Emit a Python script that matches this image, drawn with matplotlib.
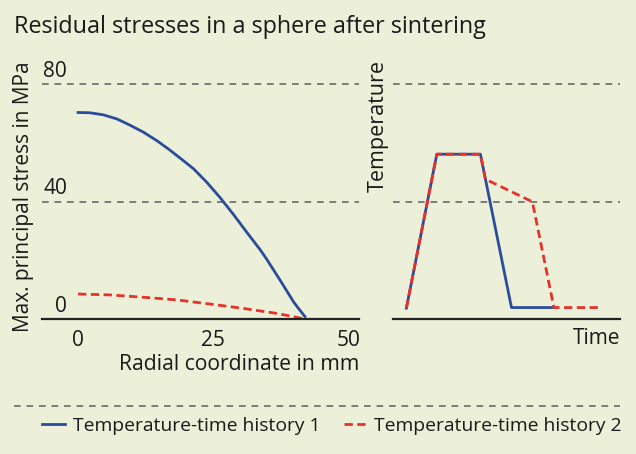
from matplotlib import pyplot as plt
from matplotlib.lines import Line2D

# Left panel: residual stress along the radius
radius_blue = [0, 2.2, 4.7, 7.2, 9.6, 12.1, 14.6, 17.0, 19.5, 21.4, 23.8, 26.3,
               28.8, 31.2, 33.7, 34.9, 37.4, 39.9, 40.8, 42.0]
stress_blue = [70.3, 70.2, 69.5, 68.1, 66.0, 63.6, 60.7, 57.5, 53.9, 51.1, 46.6, 41.3,
               35.5, 29.6, 23.6, 20.4, 13.2, 5.8, 3.6, 0.8]
radius_red = [0, 5.9, 12.1, 18.3, 24.4, 30.6, 36.8, 42.0]
stress_red = [8.5, 8.2, 7.4, 6.5, 5.1, 3.6, 1.9, 0.0]
stress_ticks = [0, 40, 80]
radius_ticks = [0, 25, 50]

# Right panel: temperature-time histories (arbitrary units)
time_blue = [5.9, 19.3, 38.5, 52.2, 70.9]
temp_blue = [3.7, 56.1, 56.1, 3.9, 3.9]
time_red = [5.9, 19.3, 38.5, 40.7, 61.4, 70.9, 90.8]
temp_red = [3.7, 56.1, 56.1, 47.6, 39.9, 3.9, 3.9]

labels = ['Temperature-time history 1', 'Temperature-time history 2']

BG = '#ecf0d8'
BLUE = '#2b4c9b'
RED = '#e5332a'
GRID = '#6a6a6a'
TXT = '#1a1a1a'
W, H = 636, 454
DASH = (0, (3, 1.6))

plt.rcParams['font.family'] = ['Open Sans', 'DejaVu Sans']

fig = plt.figure(figsize=(W / 100, H / 100), dpi=100, facecolor=BG)


def px(x, y):
    # pixel position (top-left origin) -> figure fraction
    return x / W, 1 - y / H


ax1 = fig.add_axes([42 / W, 1 - 319 / H, (359 - 42) / W, (319 - 84) / H])
ax2 = fig.add_axes([393 / W, 1 - 319 / H, (620 - 393) / W, (319 - 84) / H])

for ax in (ax1, ax2):
    ax.set_facecolor(BG)
    ax.set_ylim(0, 80)
    for side in ('left', 'right', 'top'):
        ax.spines[side].set_visible(False)
    ax.spines['bottom'].set_color('#222222')
    ax.spines['bottom'].set_linewidth(1.6)
    ax.set_yticks([])
    for v in stress_ticks[1:]:
        ax.axhline(v, color=GRID, lw=1.2, ls=(0, (4, 3.5)), clip_on=False)

# left panel
ax1.set_xlim(-6.67, 52)
ax1.plot(radius_blue, stress_blue, color=BLUE, lw=2)
ax1.plot(radius_red, stress_red, color=RED, lw=2, ls=DASH)
ax1.set_xticks(radius_ticks)
ax1.set_xticklabels([str(t) for t in radius_ticks])
ax1.tick_params(axis='x', length=0, pad=8, labelsize=15, labelcolor=TXT)
for v in stress_ticks:
    ax1.text(-2.0, v + 2.4, str(v), ha='right', va='baseline', fontsize=15, color=TXT)

# right panel
ax2.set_xlim(0, 100)
ax2.set_xticks([])
ax2.plot(time_blue, temp_blue, color=BLUE, lw=2)
ax2.plot(time_red, temp_red, color=RED, lw=2, ls=DASH)

# texts
fig.text(*px(14, 33), 'Residual stresses in a sphere after sintering',
         fontsize=16.8, color=TXT, va='baseline', ha='left')
fig.text(*px(24, 197), 'Max. principal stress in MPa', rotation=90,
         fontsize=15, color=TXT, ha='center', va='center')
fig.text(*px(359, 365), 'Radial coordinate in mm', fontsize=15.2, color=TXT,
         ha='right', va='center')
fig.text(*px(378, 60), 'Temperature', rotation=90, fontsize=15.5, color=TXT,
         ha='center', va='top')
fig.text(*px(620, 339), 'Time', fontsize=15, color=TXT, ha='right', va='center')

# separator above the legend
x0, y0 = px(14, 406)
x1, _ = px(620, 406)
fig.add_artist(Line2D([x0, x1], [y0, y0], color=GRID, lw=1.2, ls=(0, (4, 3.5))))

handles = [Line2D([], [], color=BLUE, lw=2),
           Line2D([], [], color=RED, lw=2, ls=DASH)]
fig.legend(handles, labels, loc='center left', bbox_to_anchor=px(42, 426),
           ncol=2, frameon=False, fontsize=13.9, handlelength=1.2,
           handletextpad=0.4, columnspacing=1.2, borderpad=0, borderaxespad=0,
           labelcolor=TXT)

fig.savefig('out.png', dpi=100, facecolor=BG)
